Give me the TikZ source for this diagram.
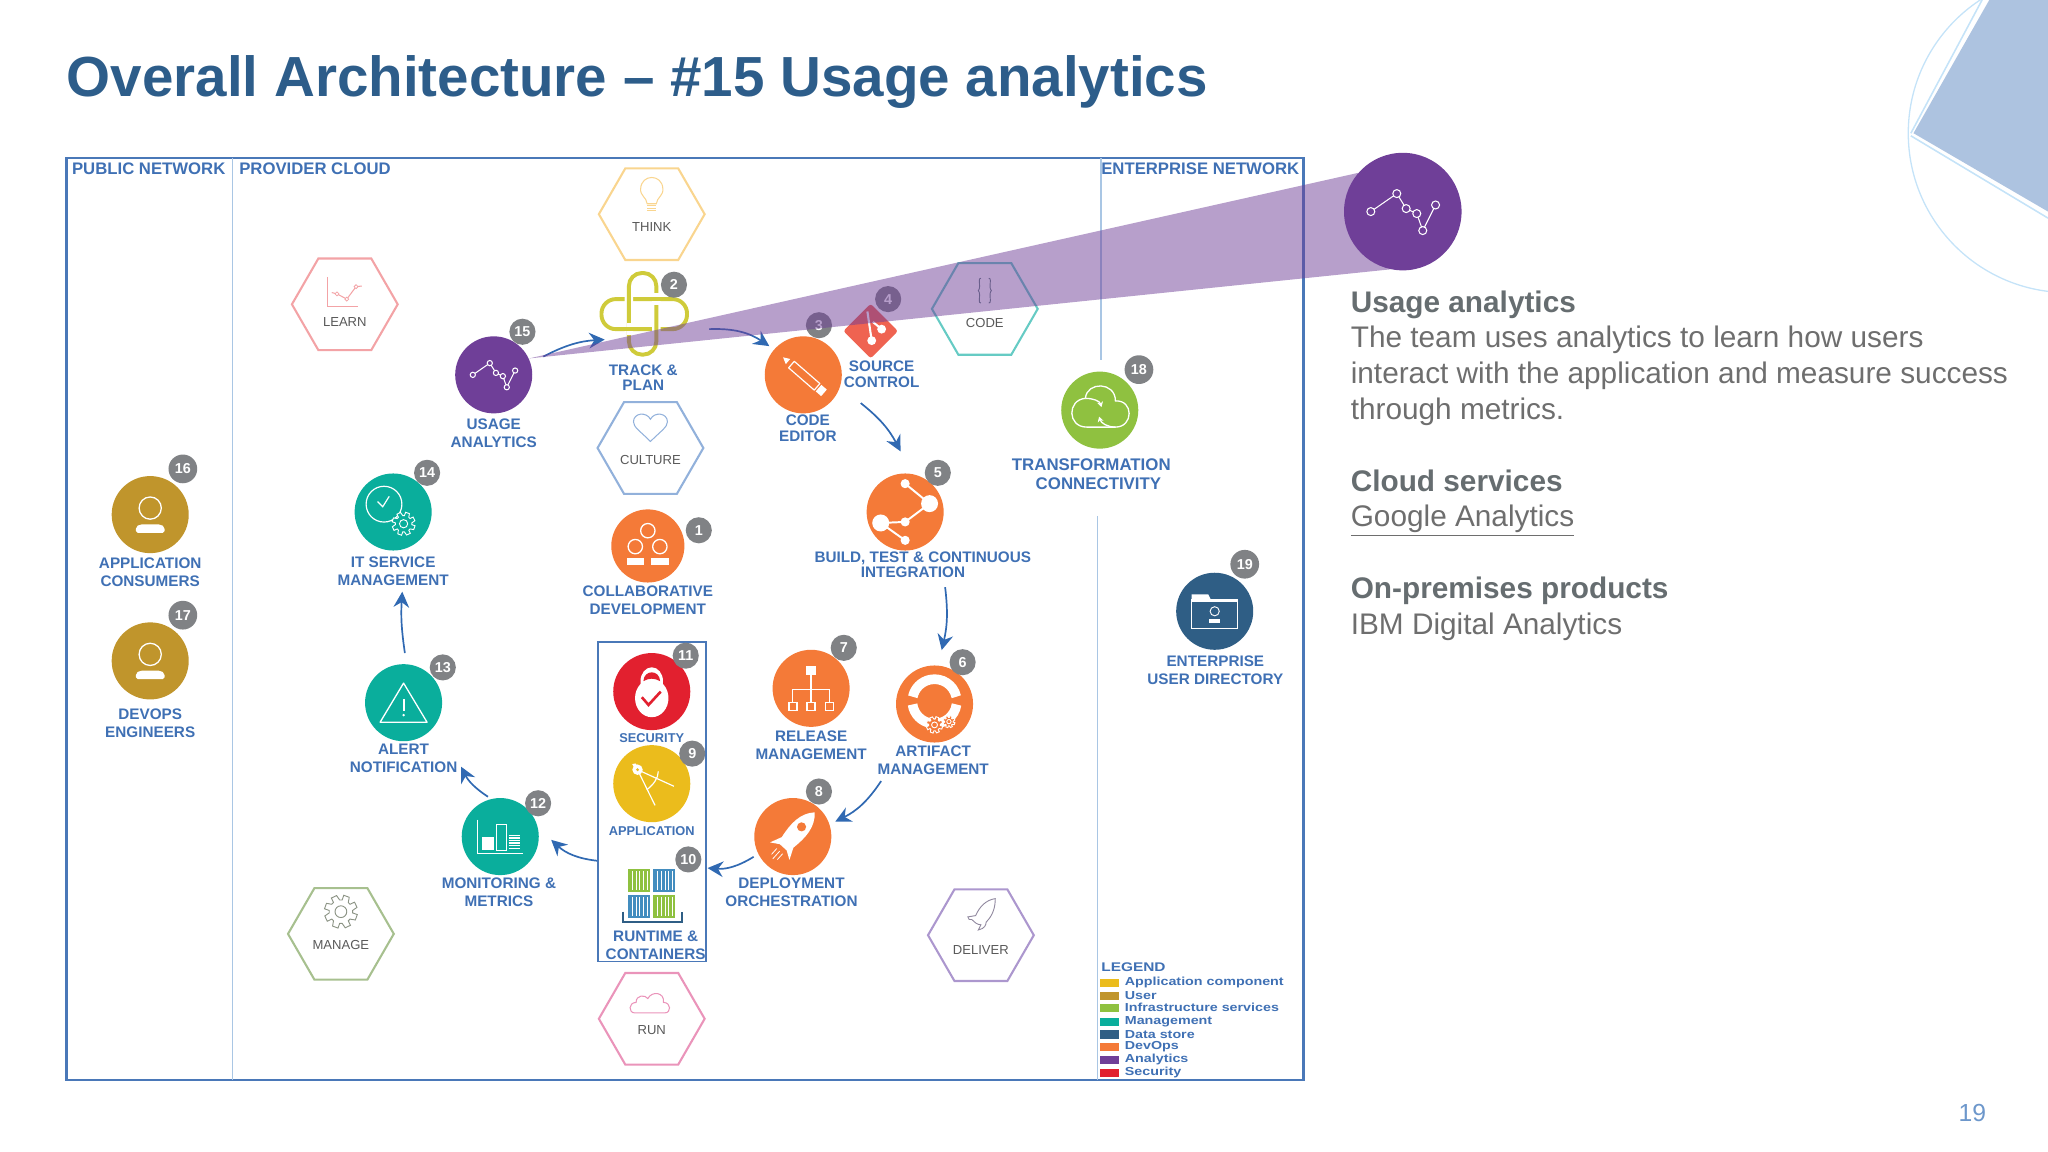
\documentclass[tikz,border=0pt]{standalone}
\usepackage{fontspec}
\setmainfont{Liberation Sans}
\newfontfamily\legendfont[FakeStretch=1.23]{Liberation Sans}
\usetikzlibrary{arrows.meta}
\usetikzlibrary{shapes.geometric}
\definecolor{titleblue}{HTML}{2D5D8A}
\definecolor{labelblue}{HTML}{3F70B4}
\definecolor{frameblue}{HTML}{4A78B8}
\definecolor{zoneblue}{HTML}{A9C6E4}
\definecolor{flowblue}{HTML}{3069B2}
\definecolor{badgegrey}{HTML}{808285}
\definecolor{usergold}{HTML}{C0952C}
\definecolor{mgmtteal}{HTML}{0AAE9C}
\definecolor{devorange}{HTML}{F47A38}
\definecolor{secred}{HTML}{E2202F}
\definecolor{appyellow}{HTML}{EBBC1C}
\definecolor{infragreen}{HTML}{8FC140}
\definecolor{storeblue}{HTML}{2F5E85}
\definecolor{anapurple}{HTML}{6F3F98}
\definecolor{gitred}{HTML}{EF6351}
\definecolor{trackyellow}{HTML}{CFCB3A}
\definecolor{thinkhex}{HTML}{F9D58F}
\definecolor{learnhex}{HTML}{F3A3A6}
\definecolor{culturehex}{HTML}{92B1DB}
\definecolor{codehex}{HTML}{66CBC4}
\definecolor{managehex}{HTML}{A7C08F}
\definecolor{deliverhex}{HTML}{AC97CE}
\definecolor{runhex}{HTML}{EA94BA}
\definecolor{bodygrey}{HTML}{6E6E6E}
\definecolor{headgrey}{HTML}{666D70}
\definecolor{decoblue}{HTML}{ADC3E0}
\definecolor{decoline}{HTML}{C5E3F8}
\tikzset{disc/.style={circle,minimum size=59pt,inner sep=0pt}}
\tikzset{badge/.style={circle,fill=badgegrey,text=white,inner sep=0pt,minimum size=20pt,font=\bfseries\fontsize{11}{12}\selectfont}}
\tikzset{tag/.style={text=labelblue,align=center,inner sep=0pt,yshift=-.5pt,font=\bfseries\fontsize{11.7}{14}\selectfont}}
\tikzset{tagtight/.style={tag,font=\bfseries\fontsize{11.7}{11.8}\selectfont}}
\tikzset{smalltag/.style={tag,font=\bfseries\fontsize{9.8}{12}\selectfont}}
\tikzset{zonetag/.style={text=labelblue,anchor=west,inner sep=0pt,yshift=-.5pt,font=\bfseries\fontsize{12.8}{14}\selectfont}}
\tikzset{hexa/.style={regular polygon,regular polygon sides=6,minimum size=81pt,inner sep=0pt,line width=1.6pt,draw=#1}}
\tikzset{hextag/.style={text=black!65,inner sep=0pt,yshift=-.5pt,font=\fontsize{10}{12}\selectfont}}
\tikzset{flow/.style={flowblue,line width=1.3pt,-{Stealth[length=12pt,width=12pt,inset=4pt]}}}
\tikzset{swatch/.style={minimum width=14.5pt,minimum height=6.4pt,inner sep=0pt}}
\tikzset{legendtag/.style={text=labelblue,anchor=west,inner sep=0pt,font=\legendfont\bfseries\fontsize{8.9}{9}\selectfont}}
% icons, drawn round their own centre
\tikzset{analyticsicon/.pic={
  \draw[white,line width=.8pt] (-16,0) -- (-3,-9) -- (1.7,-1.5) -- (7,1) -- (10,9.5) -- (16.4,-3.3);
  \foreach \x/\y in {-16/0,-3/-9,1.7/-1.5,7/1,10/9.5,16.4/-3.3}
    \draw[white,fill=anapurple,line width=.8pt] (\x,\y) circle (2);}}
\tikzset{personicon/.pic={
  \draw[white,line width=1pt] (0,-5) circle (8.5);
  \fill[white,rounded corners=1.5pt] (-11,14) -- (-11,9.5) -- (-8,7.5) -- (8,7.5) -- (11,9.5) -- (11,14) -- cycle;}}
\tikzset{cogicon/.pic={
  \filldraw[line width=.7pt,fill=#1] (0:6)
    \foreach \a in {0,45,...,315} {-- (\a+6:6) -- (\a+10:8.5) -- (\a+30:8.5) -- (\a+39:6)} -- cycle;
  \draw[line width=.7pt] (0,0) circle (3);}}
\tikzset{cloudicon/.pic={
  \draw (-13,8) .. controls (-18,8) and (-18,0) .. (-12,0) .. controls (-12,-6) and (-5,-6) .. (-3,-3)
    .. controls (0,-9) and (10,-8) .. (9,0) .. controls (15,0) and (15,8) .. (10,8) -- cycle;}}
\begin{document}
\begin{tikzpicture}[x=1pt,y=-1pt]
  \useasboundingbox (0,0) rectangle (1568,882);
  % corner decoration
  \begin{scope}
    \clip (0,0) rectangle (1568,882);
    \fill[decoblue] (1465,102) -- (1523,0) -- (1568,0) -- (1568,162) -- cycle;
    \draw[decoline,line width=1pt] (1583,102) circle (122);
    \draw[decoline,line width=1.2pt] (1517.5,0) -- (1463,102);
    \draw[decoline,line width=1.2pt] (1463,104) -- (1568,167);
  \end{scope}
  % title and side text
  \node[anchor=base west,inner sep=0pt,text=titleblue,font=\bfseries\fontsize{43.3}{50}\selectfont] (title) at (51,74) {Overall Architecture -- \#15 Usage analytics};
  \node[anchor=north west,inner sep=0pt,align=left,text=bodygrey,font=\fontsize{22.8}{27.4}\selectfont] (sidetext) at (1034,222.2) {%
    \textcolor{headgrey}{\bfseries Usage analytics}\\
    The team uses analytics to learn how users\\
    interact with the application and measure success\\
    through metrics.\\[27.4pt]
    \textcolor{headgrey}{\bfseries Cloud services}\\
    \underline{Google Analytics}\\[27.4pt]
    \textcolor{headgrey}{\bfseries On-premises products}\\
    IBM Digital Analytics};
  \node[inner sep=0pt,text=zoneblue!50!flowblue,font=\fontsize{18.9}{22}\selectfont] (pagenum) at (1510,852) {19};
  % network zones
  \node[draw=frameblue,line width=2pt,inner sep=0pt,minimum width=947pt,minimum height=706pt] (frame) at (524.5,474) {};
  \coordinate (ztop1) at (178,121);
  \coordinate (zbot1) at (178,827);
  \coordinate (ztop2) at (843,121);
  \coordinate (zmid2) at (843,276);
  \coordinate (zmid3) at (840,395);
  \coordinate (zbot2) at (840,827);
  \draw[zoneblue,line width=1pt] (ztop1) -- (zbot1);
  \draw[zoneblue,line width=1pt] (ztop2) -- (zmid2);
  \draw[zoneblue,line width=1pt] (zmid3) -- (zbot2);
  \node[zonetag] (public) at (55,129) {PUBLIC NETWORK};
  \node[zonetag] (provider) at (183,129) {PROVIDER CLOUD};
  \node[zonetag] (enterprise) at (843,129) {ENTERPRISE NETWORK};
  % hexagons
  \node[hexa=thinkhex] (think) at (499,164) {};
  \node[hexa=learnhex] (learn) at (264,233) {};
  \node[hexa=culturehex] (culture) at (498,343) {};
  \node[hexa=codehex] (code) at (754,236.5) {};
  \node[hexa=managehex] (manage) at (261,715) {};
  \node[hexa=deliverhex] (deliver) at (751,716) {};
  \node[hexa=runhex] (run) at (499,780) {};
  \node[hextag] (thinktag) at (499,173) {THINK};
  \node[hextag] (learntag) at (264,246) {LEARN};
  \node[hextag] (culturetag) at (498,352) {CULTURE};
  \node[hextag] (codetag) at (754,247) {CODE};
  \node[hextag] (managetag) at (261,723) {MANAGE};
  \node[hextag] (delivertag) at (751,727) {DELIVER};
  \node[hextag] (runtag) at (499,788) {RUN};
  % hexagon icons
  \draw[thinkhex,line width=.8pt] (495.5,156) .. controls (495,151) and (490,150) .. (490.5,144.5) .. controls (491,133) and (507,133) .. (507.5,144.5) .. controls (508,150) and (503,151) .. (502.5,156) -- cycle;
  \foreach \y in {157.5,159.5,161.5}
    \draw[thinkhex,line width=.8pt] (495.5,\y) -- (502.5,\y);
  \draw[learnhex,line width=.8pt] (250.5,212) -- (250.5,235) -- (274,235);
  \draw[learnhex,line width=.8pt] (254,224) -- (258,225) -- (265.5,229) -- (272.6,219.5) -- (277,219);
  \foreach \x/\y in {258/225,265.5/229,272.6/219.5}
    \draw[learnhex,fill=white,line width=.6pt] (\x,\y) circle (1.5);
  \draw[culturehex,line width=.8pt] (498,338) .. controls (490,330) and (485,327) .. (485,323) .. controls (485,316) and (495,315) .. (498,321) .. controls (501,315) and (511,316) .. (511,323) .. controls (511,327) and (506,330) .. (498,338) -- cycle;
  \draw[gray!80!teal,line width=.7pt] (751,213) .. controls (749,213) and (750,216) .. (750,219) .. controls (750,222) and (749,222) .. (749,222.5) .. controls (749,223) and (750,223) .. (750,226) .. controls (750,229) and (749,232) .. (751,232);
  \draw[gray!80!teal,line width=.7pt] (757,213) .. controls (759,213) and (758,216) .. (758,219) .. controls (758,222) and (759,222) .. (759,222.5) .. controls (759,223) and (758,223) .. (758,226) .. controls (758,229) and (759,232) .. (757,232);
  \pic[gray!70!managehex,scale=1.5] at (261,698) {cogicon=white};
  \draw[gray!60!deliverhex,line width=.7pt] (762,688) .. controls (755,689) and (750,694) .. (747,701) -- (741,702) -- (742,704) -- (744,704) .. controls (746,706) and (748,708) .. (751,708) -- (749,712) .. controls (754,711) and (755,708) .. (755,706) .. controls (760,701) and (762,695) .. (762,688) -- cycle;
  \pic[runhex,line width=.8pt] at (499,767.5) {cloudicon};
  % track and plan
  \node[inner sep=0pt,minimum size=0pt] (track) at (492,240.5) {};
  \draw[trackyellow,line width=3pt,rounded corners=11pt] (460.5,229) rectangle (526,252);
  \draw[white,line width=6.5pt,rounded corners=10pt] (481.5,209) rectangle (502.5,271.5);
  \draw[trackyellow,line width=3pt,rounded corners=10pt] (481.5,209) rectangle (502.5,271.5);
  \foreach \x/\y in {502.5/229,481.5/252} {
    \draw[white,line width=3.6pt] (\x,\y-4.5) -- (\x,\y+4.5);
    \draw[trackyellow,line width=3pt] (\x-4.5,\y) -- (\x+4.5,\y);
  }
  \node[tagtight] (tracktag) at (492.5,288.5) {TRACK \&\\PLAN};
  % source control
  \node[diamond,fill=gitred,minimum size=42pt,inner sep=0pt,rounded corners=2pt] (source) at (666.6,253.5) {};
  \begin{scope}[shift={(666.6,253.5)}]
    \draw[white,line width=1.6pt] (-2.5,-15) -- (.8,7.3);
    \draw[white,line width=1.6pt] (1.7,-7) -- (8.4,-1.5);
    \fill[white] (.8,7.3) circle (3.4);
    \fill[white] (8.4,-1.5) circle (3.4);
  \end{scope}
  \node[tagtight] (sourcetag) at (675,286) {SOURCE\\CONTROL};
  % analytics, management and users
  \node[disc,fill=anapurple] (usage) at (378,287) {};
  \pic at (378,287) {analyticsicon};
  \node[tag] (usagetag) at (378,331) {USAGE\\ANALYTICS};
  \node[disc,fill=mgmtteal] (itsm) at (301,392) {};
  \begin{scope}[shift={(301,392)}]
    \draw[white,line width=.9pt] (-7,-6) circle (13.7);
    \draw[white,line width=.9pt] (-12,-8) -- (-8,-4) -- (-3,-12);
    \pic[white,scale=1.05] at (8,9) {cogicon=mgmtteal};
  \end{scope}
  \node[tag] (itsmtag) at (301,437) {IT SERVICE\\MANAGEMENT};
  \node[disc,fill=mgmtteal] (alert) at (309,538) {};
  \begin{scope}[shift={(309,538)}]
    \draw[white,line width=1pt,line join=round] (0,-15) -- (18,15) -- (-18,15) -- cycle;
    \draw[white,line width=1.6pt] (0,-3) -- (0,6);
    \fill[white] (0,9.5) circle (1);
  \end{scope}
  \node[tag] (alerttag) at (309,580) {ALERT\\NOTIFICATION};
  \node[disc,fill=mgmtteal] (monitoring) at (383,640.5) {};
  \begin{scope}[shift={(383,640.5)}]
    \draw[white,line width=.9pt] (-17.5,-13) -- (-17.5,12.8) -- (17.5,12.8);
    \fill[white] (-14,0) rectangle (-5,10.5);
    \draw[white,line width=.9pt] (-3,-9) rectangle (4.5,10.5);
    \foreach \y in {-1,1,...,9}
      \draw[white,line width=1pt] (6.5,\y) -- (15,\y);
  \end{scope}
  \node[tag] (monitoringtag) at (382,682.5) {MONITORING \&\\METRICS};
  \node[disc,fill=usergold] (consumers) at (115,394) {};
  \pic at (115,394) {personicon};
  \node[tag] (consumerstag) at (115,437.5) {APPLICATION\\CONSUMERS};
  \node[disc,fill=usergold] (engineers) at (115,506) {};
  \pic at (115,506) {personicon};
  \node[tag] (engineerstag) at (115,553) {DEVOPS\\ENGINEERS};
  % devops
  \node[disc,fill=devorange,minimum size=56pt] (collab) at (496,418) {};
  \begin{scope}[shift={(496,418)}]
    \foreach \x/\y in {0/-11.7,-9.6/.5,9.2/.5}
      \draw[white,line width=1pt] (\x,\y) circle (5.5);
    \fill[white] (-15.7,9) rectangle (-2.7,14.5);
    \fill[white] (2.4,9) rectangle (16,14.5);
  \end{scope}
  \node[tag] (collabtag) at (496,459) {COLLABORATIVE\\DEVELOPMENT};
  \node[disc,fill=devorange] (editor) at (615,287) {};
  \begin{scope}[shift={(615,287)},rotate=-41]
    \draw[white,line width=.9pt,line join=round] (-12,-3.3) rectangle (14,3.3);
    \fill[white] (15.5,-3.3) rectangle (21,3.3);
    \fill[white] (-20.5,0) -- (-15.5,-2.6) -- (-15.5,2.6) -- cycle;
  \end{scope}
  \node[tagtight] (editortag) at (618.5,327.5) {CODE\\EDITOR};
  \node[disc,fill=devorange] (build) at (693,392) {};
  \begin{scope}[shift={(693,392)}]
    \draw[white,line width=1.5pt] (0,-21.7) -- (18.7,-6.4) -- (0,7.6) -- (-18.7,8.4) -- (0,21.7);
    \foreach \x/\y/\r in {0/-21.7/3.5,18.7/-6.4/6.5,0/7.6/3.5,-18.7/8.4/6.5,0/21.7/3.5}
      \fill[white] (\x,\y) circle (\r);
  \end{scope}
  \node[tagtight] (buildtag) at (706.5,432) {BUILD, TEST \& CONTINUOUS\\INTEGRATION\hspace{15pt}\mbox{}};
  \node[disc,fill=devorange] (release) at (621,527) {};
  \begin{scope}[shift={(621,527)}]
    \fill[white] (-4,-17) rectangle (4,-10);
    \draw[white,line width=1pt] (0,-10) -- (0,1) (-14,11) -- (-14,1) -- (14,1) -- (14,11) (0,1) -- (0,11);
    \foreach \x in {-14,0,14}
      \draw[white,line width=1.2pt] (\x-3,11) rectangle (\x+3,17);
  \end{scope}
  \node[tag] (releasetag) at (621,570) {RELEASE\\MANAGEMENT};
  \node[disc,fill=devorange] (artifact) at (715.5,539) {};
  \begin{scope}[shift={(715.5,539)}]
    \draw[white,line width=7.4pt] (-12:17) ++(0,-2) arc (-12:-168:17);
    \draw[white,line width=7.4pt] (8:17) ++(0,-2) arc (8:172:17);
    \pic[white,scale=.75] at (0,16) {cogicon=devorange};
    \pic[white,scale=.55] at (11,13.5) {cogicon=devorange};
  \end{scope}
  \node[tag] (artifacttag) at (714.5,581.5) {ARTIFACT\\MANAGEMENT};
  \node[disc,fill=devorange] (deploy) at (607,640.5) {};
  \begin{scope}[shift={(607,640.5)},rotate=-42]
    \fill[white] (0,-25) .. controls (8,-17) and (8,-6) .. (6,6) -- (10,15) -- (3.5,11) -- (-3.5,11) -- (-10,15) -- (-6,6) .. controls (-8,-6) and (-8,-17) .. (0,-25) -- cycle;
    \fill[devorange] (0,-10) circle (3.5);
    \draw[white,line width=.6pt] (-3,15) -- (-3,21) (0,15) -- (0,23) (3,15) -- (3,21);
  \end{scope}
  \node[tag] (deploytag) at (606,682.5) {DEPLOYMENT\\ORCHESTRATION};
  % application group
  \node[draw=frameblue,line width=1pt,inner sep=0pt,minimum width=82.5pt,minimum height=244.5pt] (group) at (499.2,613.8) {};
  \node[disc,fill=secred] (security) at (499,529.5) {};
  \begin{scope}[shift={(499,529.5)}]
    \fill[white] (0,-8) ellipse (8.6 and 10.6);
    \fill[white] (0,5) ellipse (12.8 and 14.6);
    \fill[secred] (-6.4,-8) .. controls (-6,-17) and (6,-17) .. (6.4,-8) .. controls (2,-10.5) and (-2,-10.5) .. (-6.4,-8) -- cycle;
    \draw[secred,line width=2pt] (-7.6,4.3) -- (-2.5,10.2) -- (6.9,0);
  \end{scope}
  \node[smalltag] (securitytag) at (499,564.5) {SECURITY};
  \node[disc,fill=appyellow] (application) at (499,600) {};
  \begin{scope}[shift={(499,600)}]
    \draw[white,line width=.9pt] (-10.9,-10.7) -- (2.5,16.6);
    \draw[white,line width=.9pt] (-10.9,-10.7) -- (17,2);
    \draw[white,line width=.9pt] (-3.8,4.6) .. controls (1,1) and (5,-4) .. (5,-9.4);
    \fill[white] (-10.9,-10.7) circle (4);
    \fill[white] (-15,-15) -- (-12.5,-15.5) -- (-9.5,-12) -- (-12,-10) -- cycle;
    \fill[appyellow] (-10.9,-10.7) circle (1.2);
  \end{scope}
  \node[smalltag] (applicationtag) at (499,635.5) {APPLICATION};
  \foreach \x/\y/\c in {480.8/665.6/infragreen,500/665.6/cyan!40!flowblue,480.8/685/cyan!40!flowblue,500/685/infragreen} {
    \fill[\c] (\x,\y) rectangle (\x+17,\y+17.5);
    \foreach \d in {3,6,...,15}
      \draw[white,line width=.4pt] (\x+\d,\y+1.5) -- (\x+\d,\y+16);
  }
  \draw[storeblue,line width=1.8pt] (477,698) -- (477,706) -- (522,706) -- (522,698);
  \node[tag] (runtimetag) at (502,723) {RUNTIME \&\\CONTAINERS};
  % enterprise network
  \node[disc,fill=infragreen] (transform) at (842,314) {};
  \begin{scope}[shift={(842,314)}]
    \draw[white,line width=1pt] (-11,-9) .. controls (-10,-22) and (12,-22) .. (12,-7) .. controls (26,-8) and (26,13) .. (12,13) -- (-10,13) .. controls (-25,13) and (-25,-8) .. (-11,-9);
    \draw[white,line width=1pt,-{Stealth[length=4pt,width=4.5pt]}] (-11,-9) .. controls (-5,-9) and (0,-7) .. (1.3,-2.3);
    \draw[white,line width=1pt,-{Stealth[length=4pt,width=4.5pt]}] (12,13) .. controls (6,13) and (1,10) .. (-.5,5);
  \end{scope}
  \node[tag,font=\bfseries\fontsize{12.9}{14}\selectfont] (transformtag) at (835.5,362.5) {TRANSFORMATION\\\hspace{11pt}CONNECTIVITY};
  \node[disc,fill=storeblue] (directory) at (930,468) {};
  \begin{scope}[shift={(930,468)}]
    \draw[white,line width=.9pt] (-17.6,-9) rectangle (17.6,13);
    \fill[white] (-17.6,-13) -- (-5,-13) -- (-3,-9) -- (-17.6,-9) -- cycle;
    \fill[white] (-17.6,-9) rectangle (17.6,-7);
    \draw[white,line width=.7pt] (0,0) circle (3.5);
    \fill[white] (-4,6) rectangle (4,9);
  \end{scope}
  \node[tag] (directorytag) at (930.5,512.5) {ENTERPRISE\\USER DIRECTORY};
  % arrows
  \coordinate (usageout) at (416,273);
  \coordinate (trackin) at (463,260);
  \coordinate (trackout) at (543,252);
  \coordinate (editorin) at (589,265);
  \coordinate (sourceout) at (659,308.6);
  \coordinate (buildin) at (689.5,345.6);
  \coordinate (buildout) at (723.6,449.5);
  \coordinate (artifactin) at (721,497.7);
  \coordinate (artifactout) at (674.6,598);
  \coordinate (deployin) at (639.5,629);
  \coordinate (deployout) at (577,656);
  \coordinate (runtimein) at (541.7,664.6);
  \coordinate (runtimeout) at (457,659);
  \coordinate (monitoringin) at (422,643);
  \coordinate (monitoringout) at (373.6,610);
  \coordinate (alertin) at (353,587);
  \coordinate (alertout) at (310,500);
  \coordinate (itsmin) at (308,453);
  \draw[flow] (usageout) to[bend left=12] (trackin);
  \draw[flow] (trackout) to[bend left=18] (editorin);
  \draw[flow] (sourceout) to[bend left=12] (buildin);
  \draw[flow] (buildout) to[bend left=10] (artifactin);
  \draw[flow] (artifactout) to[bend left=15] (deployin);
  \draw[flow] (deployout) to[bend left=18] (runtimein);
  \draw[flow] (runtimeout) to[bend left=18] (monitoringin);
  \draw[flow] (monitoringout) to[bend left=15] (alertin);
  \draw[flow] (alertout) to[bend left=6] (itsmin);
  % badges
  \node[badge] (b1) at (535,406) {1};
  \node[badge] (b2) at (516,218) {2};
  \node[badge] (b3) at (627,249) {3};
  \node[badge] (b4) at (680,229) {4};
  \node[badge] (b5) at (718,362) {5};
  \node[badge] (b6) at (737,507) {6};
  \node[badge] (b7) at (646,496) {7};
  \node[badge] (b8) at (627,606) {8};
  \node[badge] (b9) at (530,577) {9};
  \node[badge] (b10) at (527,658) {10};
  \node[badge] (b11) at (525,502) {11};
  \node[badge] (b12) at (412,615) {12};
  \node[badge] (b13) at (339,511) {13};
  \node[badge] (b14) at (327,362) {14};
  \node[badge] (b15) at (400,254) {15};
  \node[badge,minimum size=22pt] (b16) at (140,359) {16};
  \node[badge,minimum size=22pt] (b17) at (140,471) {17};
  \node[badge,minimum size=22pt] (b18) at (872,283) {18};
  \node[badge,minimum size=22pt] (b19) at (953,432) {19};
  % legend
  \node[anchor=west,inner sep=0pt,text=labelblue,font=\legendfont\bfseries\fontsize{9.6}{10}\selectfont] (legend) at (843,740.5) {LEGEND};
  \foreach \c/\t/\y in {appyellow/Application component/752.5,usergold/User/762.5,infragreen/Infrastructure services/771.5,mgmtteal/Management/782.5,storeblue/Data store/792,devorange/DevOps/801.5,anapurple/Analytics/811.5,secred/Security/821.5} {
    \node[swatch,fill=\c] (sw\c) at (849.5,\y) {};
    \node[legendtag] (lg\c) at (861,\y) {\t};
  }
  % the beam out to the enlarged icon
  \node[disc,fill=anapurple,minimum size=90pt] (bigusage) at (1074,162) {};
  \fill[anapurple,fill opacity=.5] (usage.25) -- (bigusage.139) -- (bigusage.258) -- cycle;
  \pic[scale=1.53] at (1074,162) {analyticsicon};
\end{tikzpicture}
\end{document}
